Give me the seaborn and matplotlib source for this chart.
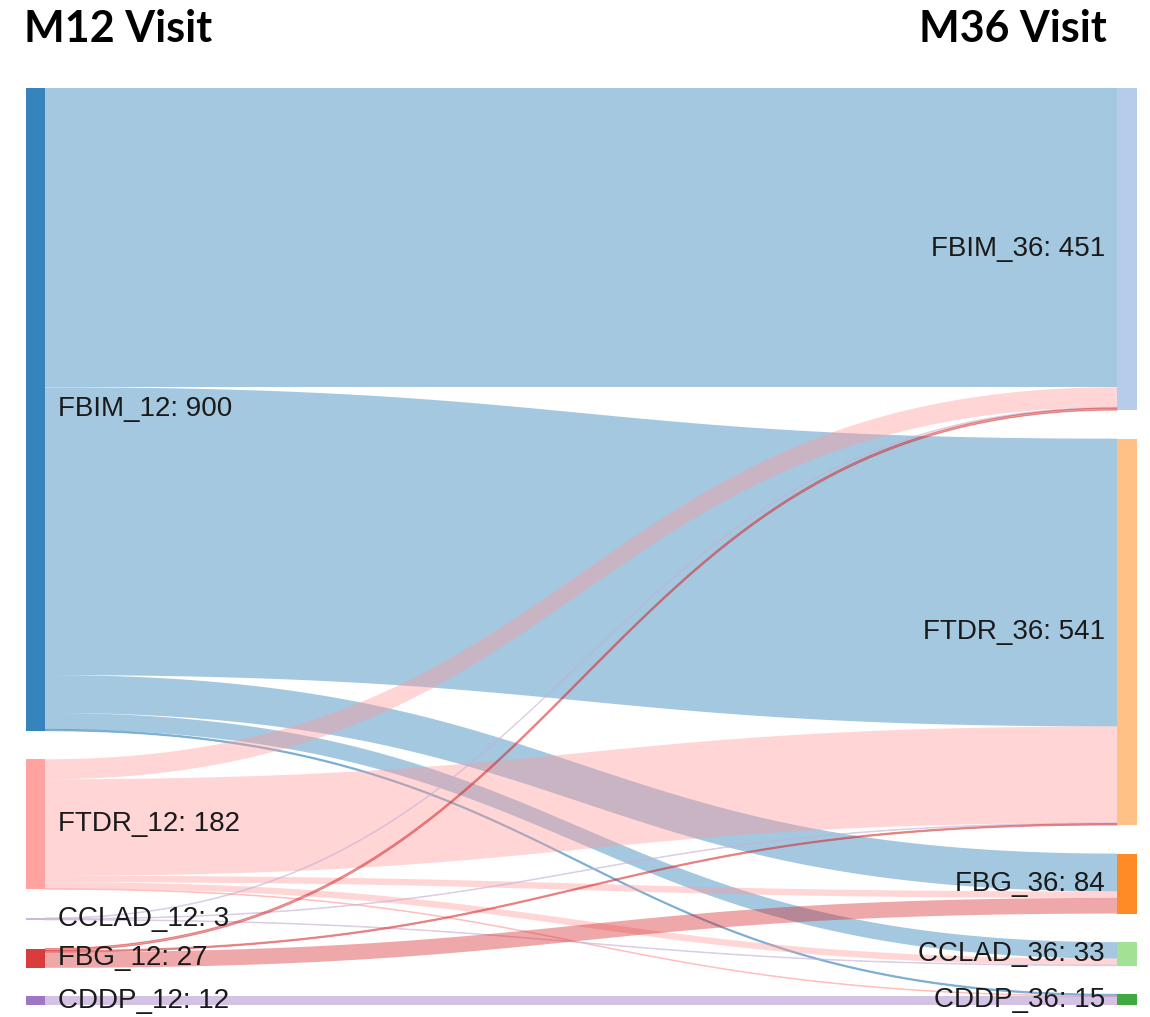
import numpy as np
import matplotlib
matplotlib.use("Agg")
import matplotlib.pyplot as plt
import seaborn as sns
from matplotlib.patches import Rectangle, Polygon

# ---- data ----
left_nodes = ["FBIM_12", "FTDR_12", "CCLAD_12", "FBG_12", "CDDP_12"]
right_nodes = ["FBIM_36", "FTDR_36", "FBG_36", "CCLAD_36", "CDDP_36"]
# flows from each M12 state to M36 states (order of right_nodes)
flow_FBIM_12 = [419, 403, 53, 23, 2]
flow_FTDR_12 = [28, 135, 9, 9, 1]
flow_CCLAD_12 = [1, 1, 0, 1, 0]
flow_FBG_12 = [3, 2, 22, 0, 0]
flow_CDDP_12 = [0, 0, 0, 0, 12]
titles = ["M12 Visit", "M36 Visit"]

flows = np.array([flow_FBIM_12, flow_FTDR_12, flow_CCLAD_12, flow_FBG_12, flow_CDDP_12], dtype=float)

sns.set_theme(style="white")
pal = sns.color_palette("tab20")
left_colors = [pal[0], pal[7], pal[9], pal[6], pal[8]]
right_colors = [pal[1], pal[3], pal[2], pal[5], pal[4]]

left_tot = flows.sum(axis=1)
right_tot = flows.sum(axis=0)
total = flows.sum()

PAD = 40.0
span = total + PAD * (len(left_nodes) - 1)

W, H = 1150, 1017
top_px, bot_px = 88, 1005
k = (bot_px - top_px) / span

fig = plt.figure(figsize=(W / 100, H / 100), dpi=100)
ax = fig.add_axes([0, 0, 1, 1])
ax.set_xlim(0, W)
ax.set_ylim(span + (H - bot_px) / k, -top_px / k)
ax.axis("off")

L0, L1 = 26, 45
R0, R1 = 1117, 1137

def positions(tots):
    ys, y = [], 0.0
    for v in tots:
        ys.append(y)
        y += v + PAD
    return ys

ly = positions(left_tot)
ry = positions(right_tot)

t = np.linspace(0, 1, 100)
def bez(x0, x1, y0, y1):
    xm = (x0 + x1) / 2
    bx = (1 - t) ** 3 * x0 + 3 * (1 - t) ** 2 * t * xm + 3 * (1 - t) * t ** 2 * xm + t ** 3 * x1
    by = (1 - t) ** 3 * y0 + 3 * (1 - t) ** 2 * t * y0 + 3 * (1 - t) * t ** 2 * y1 + t ** 3 * y1
    return bx, by

# offsets: at source ordered by target, at target ordered by source
src_start = np.zeros_like(flows)
tgt_start = np.zeros_like(flows)
for i in range(flows.shape[0]):
    y = ly[i]
    for j in range(flows.shape[1]):
        src_start[i, j] = y
        y += flows[i, j]
for j in range(flows.shape[1]):
    y = ry[j]
    for i in range(flows.shape[0]):
        tgt_start[i, j] = y
        y += flows[i, j]

for i in range(flows.shape[0]):
    for j in range(flows.shape[1]):
        v = flows[i, j]
        if v <= 0:
            continue
        tx, ty = bez(L1, R0, src_start[i, j], tgt_start[i, j])
        bx, by = bez(L1, R0, src_start[i, j] + v, tgt_start[i, j] + v)
        xs = np.concatenate([tx, bx[::-1]])
        ys = np.concatenate([ty, by[::-1]])
        thin = v * k < 2.5
        ax.add_patch(Polygon(np.column_stack([xs, ys]), closed=True,
                             facecolor=left_colors[i], alpha=0.45 if thin else 0.4,
                             edgecolor=left_colors[i] if thin else "none",
                             linewidth=0.7 if thin else 0))

for i, name in enumerate(left_nodes):
    ax.add_patch(Rectangle((L0, ly[i]), L1 - L0, left_tot[i], facecolor=left_colors[i],
                           alpha=0.9, edgecolor="none"))
    ax.text(L1 + 13, ly[i] + left_tot[i] / 2, f"{name}: {int(left_tot[i])}",
            ha="left", va="center", fontsize=20, family="Liberation Sans", color="#1a1a1a")
for j, name in enumerate(right_nodes):
    ax.add_patch(Rectangle((R0, ry[j]), R1 - R0, right_tot[j], facecolor=right_colors[j],
                           alpha=0.9, edgecolor="none"))
    ax.text(R0 - 12, ry[j] + right_tot[j] / 2, f"{name}: {int(right_tot[j])}",
            ha="right", va="center", fontsize=20, family="Liberation Sans", color="#1a1a1a")

fig.text(24 / W, 1 - 9 / H, titles[0], ha="left", va="top", fontsize=31,
         fontweight="bold", family="Lato", color="black")
fig.text(1107 / W, 1 - 9 / H, titles[1], ha="right", va="top", fontsize=31,
         fontweight="bold", family="Lato", color="black")

fig.savefig("out.png", dpi=100, facecolor="white")
